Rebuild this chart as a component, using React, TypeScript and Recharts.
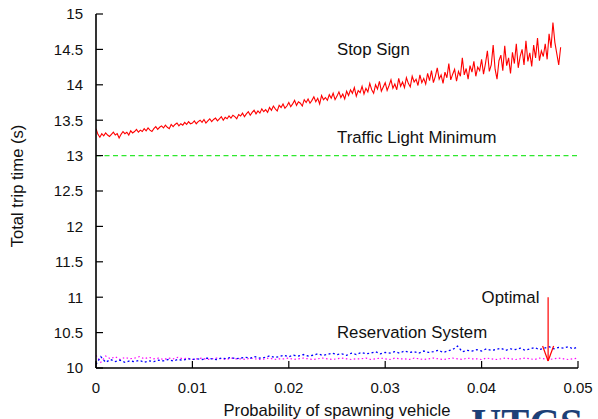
import { LineChart, Line, XAxis, YAxis, ReferenceLine, ReferenceDot } from "recharts";

// Total trip time vs. spawn probability: stop sign vs. reservation system (gnuplot-style).

const FONT = '"Liberation Sans", Arial, Helvetica, sans-serif';

const xTicks = [0, 0.01, 0.02, 0.03, 0.04, 0.05];
const yTicks = [10, 10.5, 11, 11.5, 12, 12.5, 13, 13.5, 14, 14.5, 15];

const stopSignStep = 0.0002;
const stopSign = [
  13.38, 13.3, 13.26, 13.31, 13.28, 13.32, 13.29, 13.27, 13.3, 13.33,
  13.29, 13.31, 13.25, 13.3, 13.34, 13.31, 13.33, 13.29, 13.35, 13.32,
  13.34, 13.37, 13.33, 13.36, 13.34, 13.38, 13.35, 13.39, 13.36, 13.34,
  13.38, 13.41, 13.37, 13.4, 13.42, 13.39, 13.43, 13.4, 13.38, 13.44,
  13.41, 13.44, 13.46, 13.42, 13.45, 13.43, 13.47, 13.44, 13.48, 13.45,
  13.46, 13.49, 13.45, 13.48, 13.5, 13.47, 13.51, 13.46, 13.49, 13.52,
  13.48, 13.51, 13.53, 13.49, 13.52, 13.55, 13.5, 13.54, 13.52, 13.56,
  13.53, 13.57, 13.55, 13.52, 13.58, 13.56, 13.6, 13.55, 13.59, 13.62,
  13.57, 13.61, 13.64, 13.59, 13.63, 13.6, 13.66, 13.62, 13.65, 13.61,
  13.68, 13.64, 13.7, 13.66, 13.63, 13.71, 13.68, 13.73, 13.67, 13.7,
  13.75, 13.69, 13.73, 13.78, 13.71, 13.76, 13.74, 13.7, 13.79, 13.75,
  13.8, 13.74, 13.78, 13.83, 13.76, 13.81, 13.73, 13.85, 13.79, 13.82,
  13.78, 13.86, 13.81, 13.88, 13.79, 13.84, 13.9, 13.82, 13.87, 13.8,
  13.91, 13.85, 13.93, 13.88, 13.96, 13.84, 13.92, 13.89, 13.98, 13.87,
  13.95, 13.9, 14.02, 13.93, 13.88, 14.0, 13.94, 14.05, 13.91, 13.97,
  14.03, 13.92, 13.99, 14.07, 13.95, 14.01, 13.93, 14.09, 13.98, 14.04,
  13.96, 14.1, 14.02, 13.97, 14.12, 14.04, 14.08, 13.99, 14.14, 14.03,
  14.09, 14.01, 14.16, 14.06, 14.2, 14.03, 14.12, 14.24, 14.08, 14.14,
  14.02, 14.18, 14.1, 14.3, 14.07, 14.15, 14.22, 14.05, 14.19, 14.12,
  14.38, 14.14, 14.23, 14.08, 14.27, 14.18, 14.33, 14.12, 14.25, 14.2,
  14.36, 14.15, 14.3, 14.48, 14.19, 14.28, 14.56, 14.22, 14.08, 14.34,
  14.42, 14.2, 14.55, 14.27, 14.38, 14.16, 14.46, 14.3, 14.58, 14.24,
  14.4, 14.5, 14.28, 14.62, 14.33, 14.45, 14.26, 14.56, 14.38, 14.66,
  14.34, 14.48, 14.4, 14.58, 14.36, 14.72, 14.52, 14.88, 14.6, 14.44,
  14.28, 14.53,
];

const reservationStep = 0.0005;
const reservation = [
  10.05, 10.16, 10.08, 10.12, 10.09, 10.11, 10.08, 10.1, 10.09, 10.11,
  10.08, 10.1, 10.09, 10.11, 10.1, 10.12, 10.1, 10.12, 10.11, 10.13,
  10.12, 10.13, 10.12, 10.14, 10.13, 10.12, 10.14, 10.13, 10.15, 10.13,
  10.14, 10.15, 10.14, 10.16, 10.14, 10.15, 10.17, 10.15, 10.16, 10.18,
  10.16, 10.18, 10.17, 10.19, 10.17, 10.18, 10.2, 10.18, 10.19, 10.21,
  10.19, 10.2, 10.18, 10.21, 10.19, 10.22, 10.2, 10.21, 10.23, 10.2,
  10.22, 10.21, 10.23, 10.21, 10.24, 10.22, 10.23, 10.21, 10.24, 10.22,
  10.23, 10.25, 10.22, 10.24, 10.26, 10.31, 10.23, 10.25, 10.24, 10.26,
  10.24, 10.27, 10.25, 10.26, 10.28, 10.25, 10.27, 10.26, 10.28, 10.25,
  10.27, 10.29, 10.26, 10.28, 10.3, 10.27, 10.29, 10.28, 10.3, 10.27,
  10.3,
];
const reservationLow = [
  10.18, 10.08, 10.17, 10.13, 10.16, 10.12, 10.15, 10.13, 10.14, 10.16,
  10.13, 10.15, 10.13, 10.14, 10.12, 10.14, 10.13, 10.15, 10.13, 10.14,
  10.12, 10.13, 10.14, 10.12, 10.13, 10.14, 10.13, 10.12, 10.14, 10.13,
  10.13, 10.12, 10.14, 10.13, 10.12, 10.13, 10.14, 10.12, 10.13, 10.13,
  10.14, 10.12, 10.13, 10.14, 10.13, 10.12, 10.13, 10.14, 10.13, 10.12,
  10.13, 10.14, 10.13, 10.12, 10.13, 10.13, 10.14, 10.12, 10.13, 10.14,
  10.13, 10.12, 10.14, 10.13, 10.13, 10.12, 10.14, 10.13, 10.12, 10.13,
  10.14, 10.13, 10.12, 10.13, 10.14, 10.13, 10.12, 10.14, 10.13, 10.13,
  10.12, 10.14, 10.13, 10.12, 10.13, 10.14, 10.13, 10.12, 10.13, 10.14,
  10.13, 10.12, 10.14, 10.13, 10.12, 10.13, 10.14, 10.13, 10.12, 10.13,
  10.14,
];

const trafficLightMin = 13;

// "Optimal" arrow
const optimalX = 0.0469;
const optimalTop = 11.0;
const optimalTip = 10.1;
const headHalf = 0.00057;
const headTop = 10.31;

const toPoints = (vals: number[], step: number) =>
  vals.map((y, i) => ({ x: +(i * step).toFixed(5), y }));

const stopData = toPoints(stopSign, stopSignStep);
const resData = toPoints(reservation, reservationStep);
const resLowData = toPoints(reservationLow, reservationStep);

const TICK = 7;

function LeftTick({ x, y, payload }: any) {
  const axisX = x + 13;
  return (
    <g>
      <line x1={axisX} x2={axisX + TICK} y1={y} y2={y} stroke="#000" strokeWidth={1.2} />
      <text x={x} y={y} dy="0.36em" textAnchor="end" fontFamily={FONT} fontSize={15} fill="#111">
        {String(payload.value)}
      </text>
    </g>
  );
}

function BottomTick({ x, y, payload }: any) {
  const axisY = y - 14;
  return (
    <g>
      <line x1={x} x2={x} y1={axisY} y2={axisY - TICK} stroke="#000" strokeWidth={1.2} />
      <text x={x} y={y} dy="0.72em" textAnchor="middle" fontFamily={FONT} fontSize={15} fill="#111">
        {String(payload.value)}
      </text>
    </g>
  );
}

function TopTick({ x, y }: any) {
  return <line x1={x} x2={x} y1={y} y2={y + TICK} stroke="#000" strokeWidth={1.2} />;
}

function RightTick({ x, y }: any) {
  return <line x1={x} x2={x - TICK} y1={y} y2={y} stroke="#000" strokeWidth={1.2} />;
}

function annoLabel(text: string) {
  return (props: any) => {
    const vb = props.viewBox || {};
    return (
      <text x={vb.x} y={vb.y} textAnchor="start" fontFamily={FONT} fontSize={16.8} fill="#111">
        {text}
      </text>
    );
  };
}

export default function App() {
  return (
    <div style={{ position: "relative", width: 598, height: 419, overflow: "hidden", background: "#fff" }}>
      <style>{"body{margin:0}"}</style>
      <LineChart width={598} height={419} margin={{ top: 14, right: 20, bottom: 0, left: 0 }}>
        <XAxis
          type="number"
          dataKey="x"
          domain={[0, 0.05]}
          ticks={xTicks}
          height={51}
          tickSize={0}
          tickMargin={14}
          tick={<BottomTick />}
          axisLine={{ stroke: "#000", strokeWidth: 1.6 }}
          allowDataOverflow
          label={(p: any) => {
            const vb = p.viewBox || {};
            return (
              <text x={vb.x + vb.width / 2} y={vb.y + 48} textAnchor="middle" fontFamily={FONT} fontSize={16.6} fill="#111">
                Probability of spawning vehicle
              </text>
            );
          }}
        />
        <XAxis
          xAxisId="top"
          orientation="top"
          type="number"
          domain={[0, 0.05]}
          ticks={xTicks}
          height={0}
          tickSize={0}
          tickMargin={0}
          tick={<TopTick />}
          axisLine={{ stroke: "#000", strokeWidth: 1.6 }}
          allowDataOverflow
        />
        <YAxis
          type="number"
          domain={[10, 15]}
          ticks={yTicks}
          width={96}
          tickSize={0}
          tickMargin={13}
          tick={<LeftTick />}
          axisLine={{ stroke: "#000", strokeWidth: 1.6 }}
          allowDataOverflow
          label={(p: any) => {
            const vb = p.viewBox || {};
            const cx = vb.x + 17;
            const cy = vb.y + vb.height / 2 - 5;
            return (
              <text x={cx} y={cy} transform={`rotate(-90, ${cx}, ${cy})`} textAnchor="middle" dy="0.35em" fontFamily={FONT} fontSize={16.6} fill="#111">
                Total trip time (s)
              </text>
            );
          }}
        />
        <YAxis
          yAxisId="right"
          orientation="right"
          type="number"
          domain={[10, 15]}
          ticks={yTicks}
          width={0}
          tickSize={0}
          tickMargin={0}
          tick={<RightTick />}
          axisLine={{ stroke: "#000", strokeWidth: 1.6 }}
          allowDataOverflow
        />

        <ReferenceLine y={trafficLightMin} stroke="#2ee82e" strokeWidth={1.4} strokeDasharray="5 3.5" />

        <Line data={resLowData} dataKey="y" stroke="#ff00ff" strokeWidth={1.2} strokeDasharray="1.5 2.5" dot={false} isAnimationActive={false} />
        <Line data={resData} dataKey="y" stroke="#0000ff" strokeWidth={1.3} strokeDasharray="2 2.5" dot={false} isAnimationActive={false} />
        <Line data={stopData} dataKey="y" stroke="#ff0000" strokeWidth={1.1} dot={false} isAnimationActive={false} />

        <ReferenceLine segment={[{ x: optimalX, y: optimalTop }, { x: optimalX, y: optimalTip }]} stroke="#ff0000" strokeWidth={1.2} />
        <ReferenceLine segment={[{ x: optimalX - headHalf, y: headTop }, { x: optimalX, y: optimalTip }]} stroke="#ff0000" strokeWidth={1.2} />
        <ReferenceLine segment={[{ x: optimalX + headHalf, y: headTop }, { x: optimalX, y: optimalTip }]} stroke="#ff0000" strokeWidth={1.2} />

        <ReferenceDot x={0.025} y={14.42} r={0} fill="none" stroke="none" label={annoLabel("Stop Sign")} />
        <ReferenceDot x={0.025} y={13.18} r={0} fill="none" stroke="none" label={annoLabel("Traffic Light Minimum")} />
        <ReferenceDot x={0.025} y={10.42} r={0} fill="none" stroke="none" label={annoLabel("Reservation System")} />
        <ReferenceDot x={0.04} y={10.92} r={0} fill="none" stroke="none" label={annoLabel("Optimal")} />
      </LineChart>
      <svg width={598} height={419} style={{ position: "absolute", left: 0, top: 0, pointerEvents: "none" }}>
        <text x={471} y={438} fontFamily='"Liberation Serif", "Times New Roman", serif' fontWeight="bold" fontSize={42} fill="#1d3f77">
          UTCS
        </text>
      </svg>
    </div>
  );
}
